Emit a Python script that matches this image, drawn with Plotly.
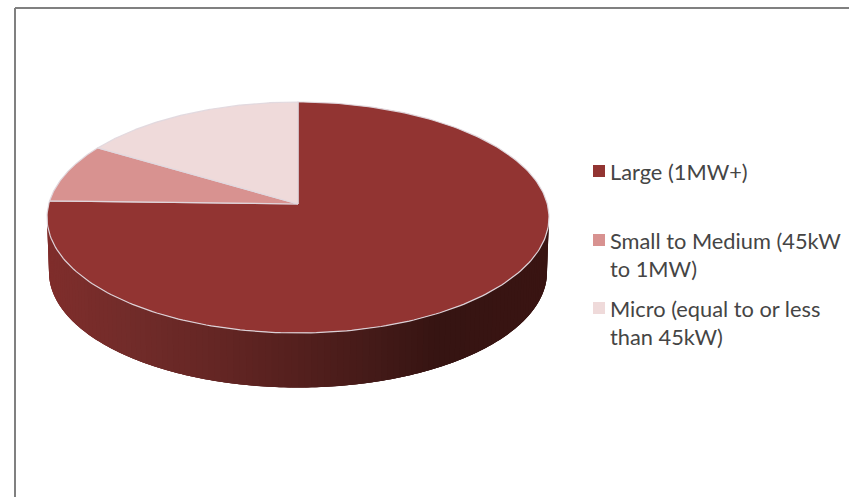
import numpy as np
import plotly.graph_objects as go

categories = ["Large (1MW+)", "Small to Medium (45kW<br>to 1MW)", "Micro (equal to or less<br>than 45kW)"]
shares = [77.3, 8.0, 14.7]
colors = ["#923432", "#d89290", "#efdada"]
legend_y = [171, 254, 322]

W, H = 849, 497
CX, RIM_CY, RX, RY = 298, 217.5, 251, 115.5
APEX_Y = 204
DEPTH_CY, DEPTH_RX = 272, 249
wall_x = [47, 130, 220, 300, 380, 440, 549]
wall_rgb = [(128, 46, 44), (114, 44, 42), (100, 38, 36), (84, 32, 30), (67, 26, 24), (54, 20, 18), (58, 20, 18)]


def rim(t):
    return CX + RX * np.sin(t), RIM_CY - RY * np.cos(t)


fig = go.Figure()

# side wall: narrow overlapping strips that carry the left-to-right shading
edges = np.radians(np.linspace(90, 270, 121))
for i in range(len(edges) - 1):
    t = np.linspace(edges[i], edges[min(i + 3, len(edges) - 1)], 6)
    xt, yt = rim(t)
    xb = CX + DEPTH_RX * np.sin(t[::-1])
    yb = DEPTH_CY - RY * np.cos(t[::-1])
    xm = CX + RX * np.sin((edges[i] + edges[i + 1]) / 2)
    rgb = [int(np.interp(xm, wall_x, [c[k] for c in wall_rgb])) for k in range(3)]
    col = f"rgb({rgb[0]},{rgb[1]},{rgb[2]})"
    fig.add_trace(go.Scatter(
        x=np.r_[xt, xb], y=np.r_[yt, yb], mode="none", fill="toself",
        fillcolor=col, hoverinfo="skip", showlegend=False))

# top face, clockwise from twelve o'clock
cum = np.r_[0, np.cumsum(shares)] / np.sum(shares) * 2 * np.pi
for name, col, a, b in zip(categories, colors, cum[:-1], cum[1:]):
    t = np.linspace(a, b, 240)
    xr, yr = rim(t)
    fig.add_trace(go.Scatter(
        x=np.r_[CX, xr, CX], y=np.r_[APEX_Y, yr, APEX_Y], mode="lines", fill="toself",
        fillcolor=col, line=dict(color="rgba(224,216,222,0.95)", width=1.2),
        name=name.replace("<br>", " "), hoverinfo="name", showlegend=False))

annotations = []
shapes = [
    dict(type="line", xref="x", yref="y", x0=15, x1=849, y0=8, y1=8, line=dict(color="#808080", width=2)),
    dict(type="line", xref="x", yref="y", x0=15, x1=15, y0=8, y1=497, line=dict(color="#808080", width=2)),
]
for name, col, y in zip(categories, colors, legend_y):
    n = name.count("<br>")
    first_line_y = y - 14 * n
    shapes.append(dict(type="rect", xref="x", yref="y", x0=593, x1=605,
                       y0=first_line_y - 6, y1=first_line_y + 6,
                       fillcolor=col, line=dict(width=0)))
    annotations.append(dict(xref="x", yref="y", x=608, y=y, text=name, showarrow=False,
                            xanchor="left", yanchor="middle", align="left",
                            font=dict(family="Lato", size=21.8, color="#454545")))

fig.update_layout(
    width=W, height=H, margin=dict(l=0, r=0, t=0, b=0),
    paper_bgcolor="white", plot_bgcolor="white", showlegend=False,
    xaxis=dict(range=[0, W], visible=False, fixedrange=True),
    yaxis=dict(range=[H, 0], visible=False, fixedrange=True),
    shapes=shapes, annotations=annotations,
)
fig.write_html("out.html", config={"displayModeBar": False},
               post_script="document.body.style.margin='0';document.documentElement.style.overflow='hidden';")
